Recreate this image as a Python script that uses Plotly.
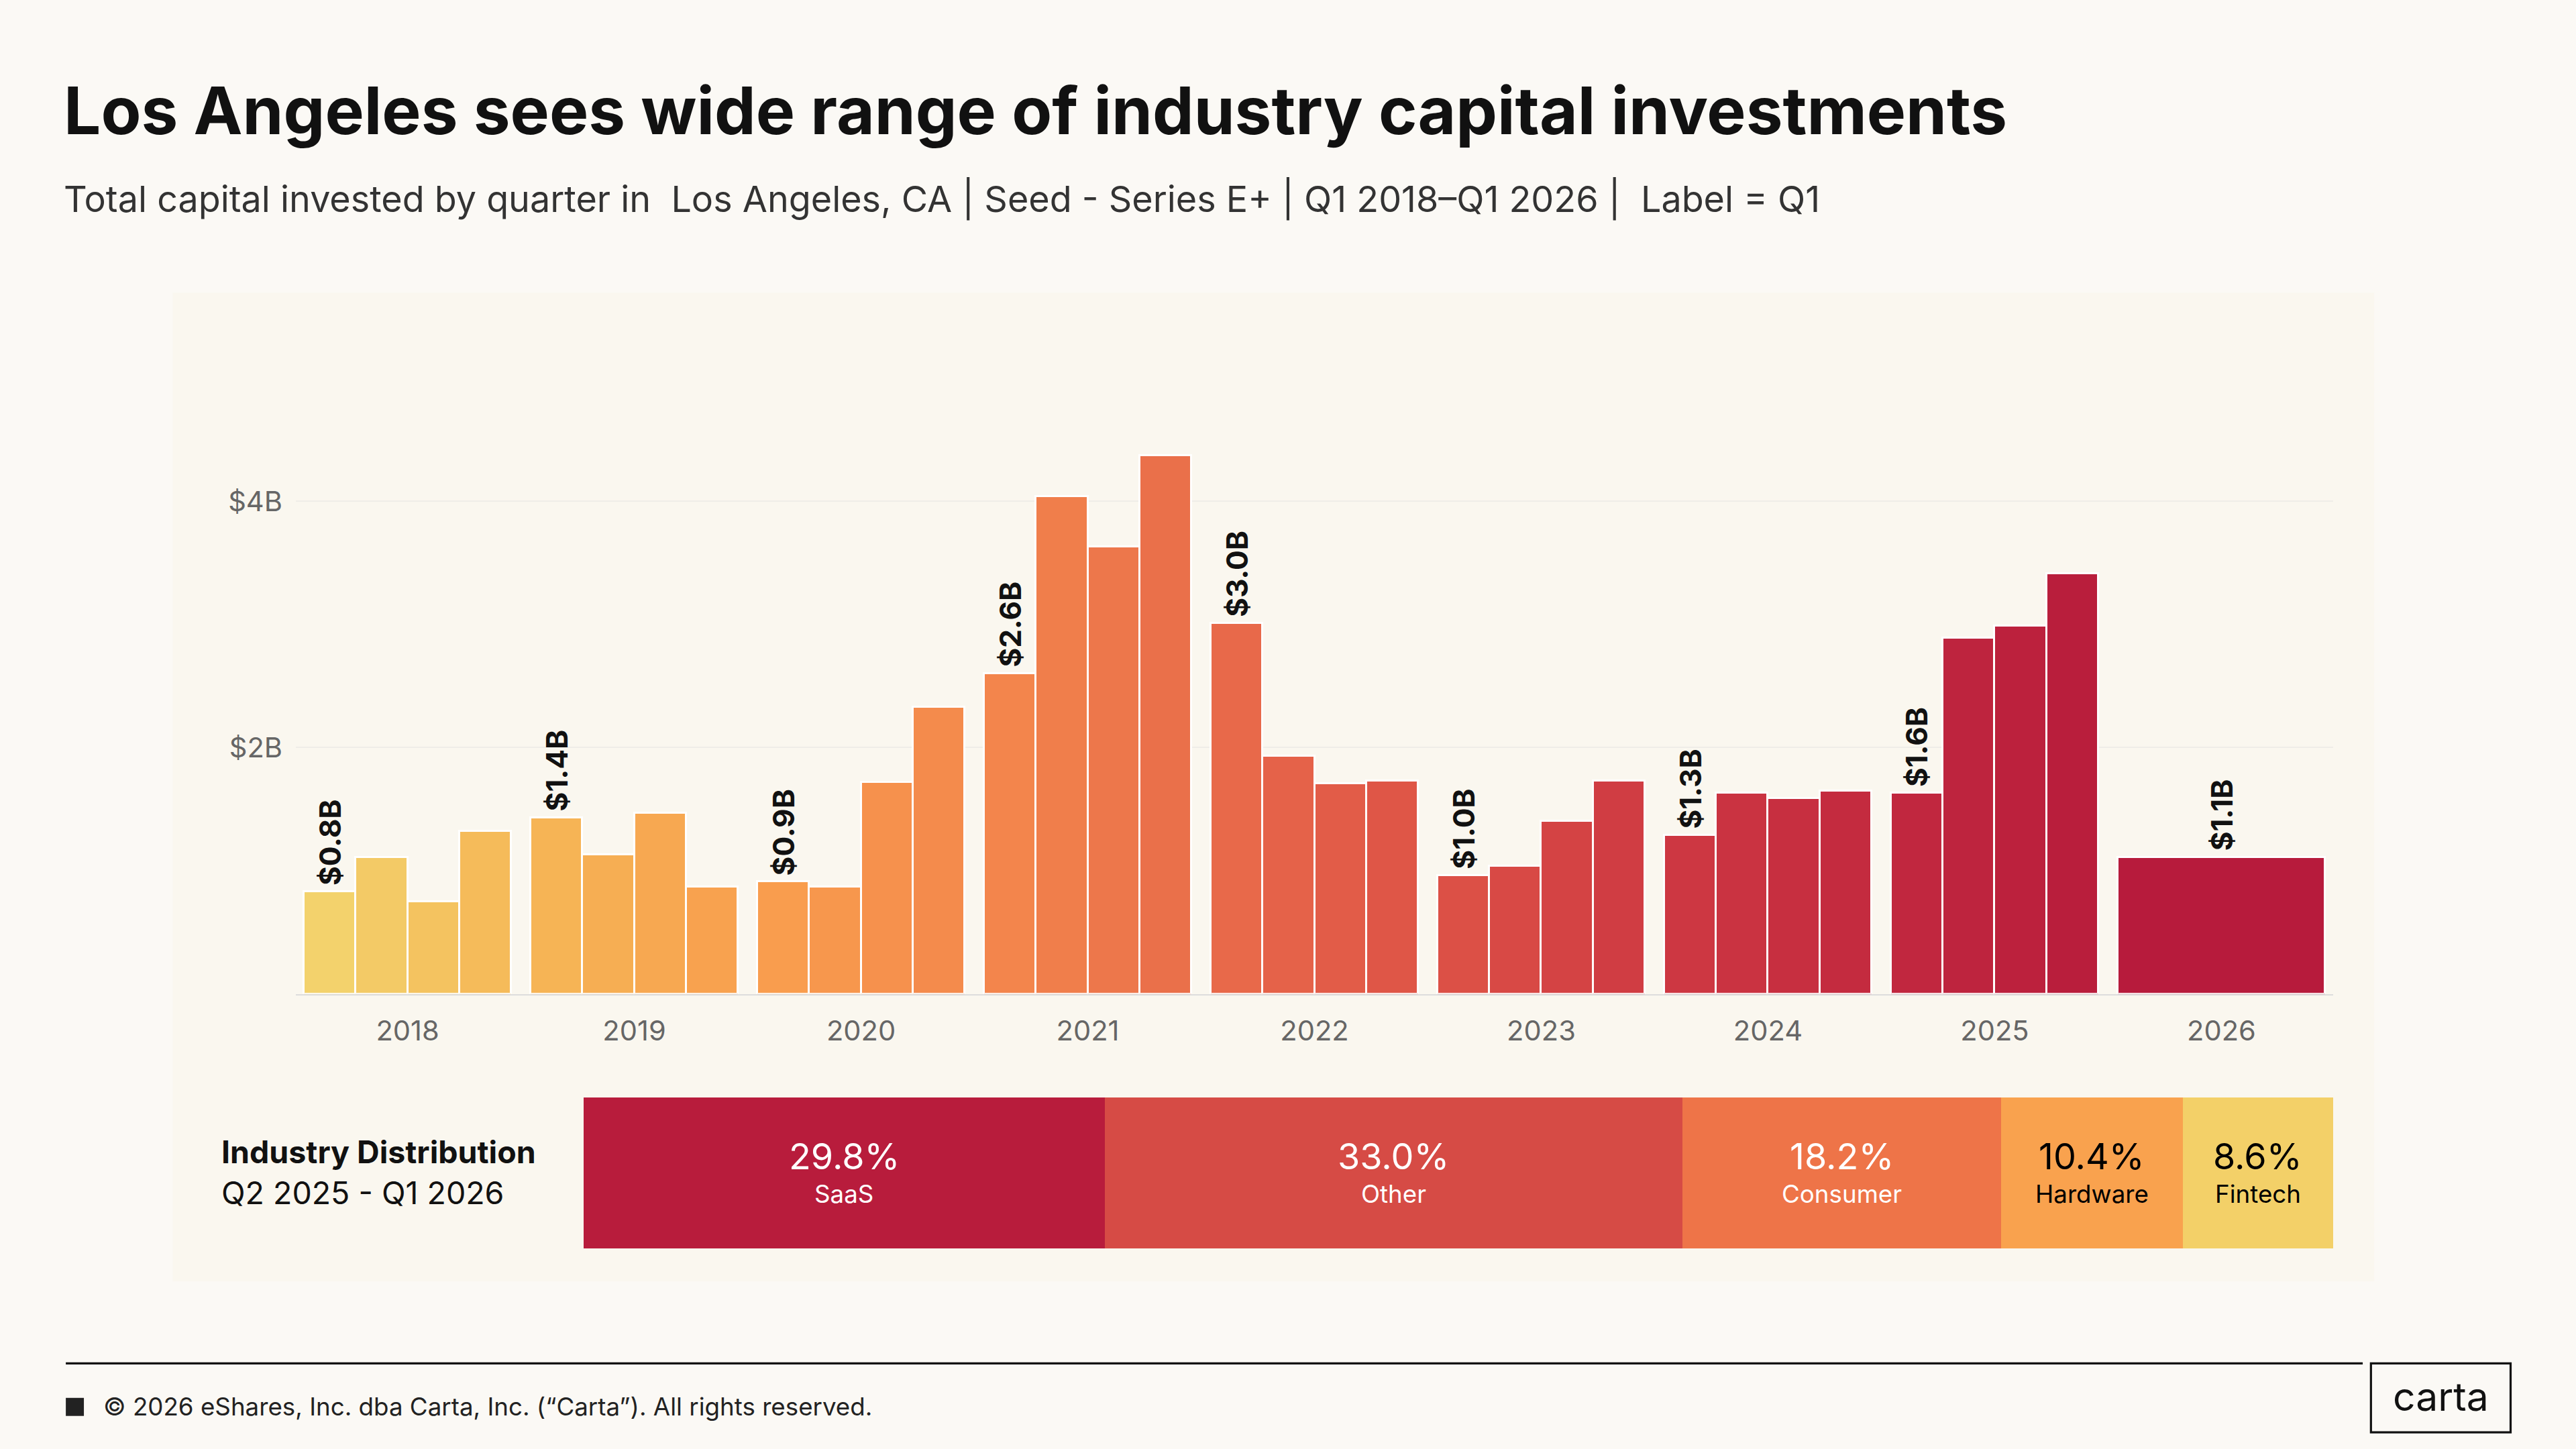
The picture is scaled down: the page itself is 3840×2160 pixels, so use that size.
import plotly.graph_objects as go
import numpy as np

# layout was measured on a 1568x882 copy; S scales to the real canvas
S = 3840 / 1568
W, H = 3840, 2160

years = ["2018", "2019", "2020", "2021", "2022", "2023", "2024", "2025", "2026"]
quarter_values = [
    [0.83, 1.11, 0.75, 1.32],
    [1.43, 1.13, 1.47, 0.87],
    [0.91, 0.87, 1.72, 2.33],
    [2.60, 4.04, 3.63, 4.37],
    [3.01, 1.93, 1.71, 1.73],
    [0.96, 1.04, 1.40, 1.73],
    [1.29, 1.63, 1.59, 1.65],
    [1.63, 2.89, 2.99, 3.41],
    [1.11],
]
q1_labels = ["$0.8B", "$1.4B", "$0.9B", "$2.6B", "$3.0B", "$1.0B", "$1.3B", "$1.6B", "$1.1B"]

industries = ["SaaS", "Other", "Consumer", "Hardware", "Fintech"]
shares = [29.8, 33.0, 18.2, 10.4, 8.6]
ind_colors = ["#b81c3c", "#d64b45", "#ee7448", "#f9a24e", "#f3d068"]
ind_text = ["white", "white", "white", "black", "black"]

# colour ramp for the quarterly bars
stops = ["#f3d26c", "#f6b455", "#f99d4e", "#f3854c", "#e8694a", "#dc5046", "#cd3742", "#c1273f", "#b71b3c"]

def hex2rgb(h):
    return np.array([int(h[i:i + 2], 16) for i in (1, 3, 5)])

def ramp(t):
    p = t * (len(stops) - 1)
    i = min(int(p), len(stops) - 2)
    f = p - i
    c = hex2rgb(stops[i]) * (1 - f) + hex2rgb(stops[i + 1]) * f
    return "rgb(%d,%d,%d)" % tuple(c)

GAP = 4.38
xs, ys, ws, cols = [], [], [], []
n_bars = 33
k = 0
for i, vals in enumerate(quarter_values):
    if len(vals) == 1:
        xs.append(i * GAP + 1.5); ws.append(4)
    else:
        xs += [i * GAP + q for q in range(4)]; ws += [1] * 4
    for v in vals:
        ys.append(v)
        cols.append(ramp(k / (n_bars - 1)))
        k += 1

FONT = "Inter"
fig = go.Figure()
fig.add_trace(go.Bar(x=xs, y=ys, width=ws, marker=dict(color=cols, line=dict(color="white", width=1.2 * S)),
                     xaxis="x", yaxis="y", hoverinfo="y"))

left = 0
for i, vals in enumerate(quarter_values):
    fig.add_annotation(x=xs[left], y=vals[0], xref="x", yref="y", text="<b>" + q1_labels[i] + "</b>",
                       textangle=-90, showarrow=False, yanchor="bottom", yshift=3 * S,
                       font=dict(family=FONT, size=18 * S, color="#111"))
    left += len(vals)

for name, v, c in zip(industries, shares, ind_colors):
    fig.add_trace(go.Bar(y=["d"], x=[v], orientation="h", marker=dict(color=c, line=dict(width=0)),
                         xaxis="x2", yaxis="y2", width=1, hoverinfo="x+name", name=name))
cum = 0
for name, v, tc in zip(industries, shares, ind_text):
    mid = cum + v / 2
    fig.add_annotation(x=mid, y=0.11, xref="x2", yref="y2", text="%.1f%%" % v, showarrow=False,
                       font=dict(family=FONT, size=22 * S, color=tc))
    fig.add_annotation(x=mid, y=-0.14, xref="x2", yref="y2", text=name, showarrow=False,
                       font=dict(family=FONT, size=15 * S, color=tc))
    cum += v

# plot area in 1568 units: x 180..1420, y 220..760
pl, pr, pt, pb = 180, 1420, 220, 760
def px(x): return (x - pl) / (pr - pl)
def py(y): return (pb - y) / (pb - pt)
unit = 31.5
x0 = -0.5 - (185 - pl) / unit
x1 = 8 * GAP + 3.5 + (pr - 1415) / unit

fig.update_layout(
    width=W, height=H, barmode="stack", showlegend=False, bargap=0,
    paper_bgcolor="#fbf9f5", plot_bgcolor="rgba(0,0,0,0)",
    margin=dict(l=pl * S, r=(1568 - pr) * S, t=pt * S, b=(882 - pb) * S),
    font=dict(family=FONT, color="#333"),
    xaxis=dict(domain=[0, 1], range=[x0, x1], tickvals=[i * GAP + 1.5 for i in range(9)], ticktext=years,
               showgrid=False, zeroline=False, showline=True, linecolor="#dddddd", linewidth=1 * S,
               ticks="", tickfont=dict(size=17 * S, color="#666"), anchor="y",
               ticklabelstandoff=int(7 * S)),
    yaxis=dict(domain=[py(605), 1], range=[0, (605 - pt) / 75], tickvals=[2, 4], ticktext=["$2B", "$4B"],
               showgrid=True, gridcolor="#efede8", gridwidth=1 * S, zeroline=False, ticks="",
               tickfont=dict(size=17 * S, color="#666"), ticklabelstandoff=int(8 * S)),
    xaxis2=dict(domain=[px(355), 1], range=[0, 100], visible=False, anchor="y2"),
    yaxis2=dict(domain=[0, py(668)], range=[-0.5, 0.5], visible=False, anchor="x2"),
)

shapes = [
    dict(type="rect", xref="paper", yref="paper", layer="below",
         x0=px(105), x1=px(1445), y0=py(780), y1=py(178), fillcolor="#faf7ef", line=dict(width=0)),
    dict(type="line", xref="paper", yref="paper", x0=px(40), x1=px(1438), y0=py(830), y1=py(830),
         line=dict(color="#111", width=1.3 * S)),
    dict(type="rect", xref="paper", yref="paper", x0=px(40), x1=px(51), y0=py(862), y1=py(851),
         fillcolor="#222", line=dict(width=0)),
    dict(type="rect", xref="paper", yref="paper", x0=px(1443), x1=px(1528), y0=py(872), y1=py(830),
         fillcolor="rgba(0,0,0,0)", line=dict(color="#111", width=1.3 * S)),
]
fig.update_layout(shapes=shapes)

def txt(x, y, t, size, color="#111", xanchor="left", bold=False):
    fig.add_annotation(x=px(x), y=py(y), xref="paper", yref="paper", text=("<b>%s</b>" % t) if bold else t,
                       showarrow=False, xanchor=xanchor, yanchor="middle",
                       font=dict(family=FONT, size=size * S, color=color))

txt(38, 67, "Los Angeles sees wide range of industry capital investments", 40, "#111", bold=True)
txt(38, 121, "Total capital invested by quarter in  Los Angeles, CA | Seed - Series E+ | Q1 2018–Q1 2026 |  Label = Q1", 22, "#333")
txt(134, 701, "Industry Distribution", 19, "#111", bold=True)
txt(134, 726, "Q2 2025 - Q1 2026", 19, "#111")
txt(62, 856, "© 2026 eShares, Inc. dba Carta, Inc. (“Carta”). All rights reserved.", 15, "#222")
txt(1485.5, 850, "carta", 24, "#111", xanchor="center")

fig.write_html("out.html", config={"displayModeBar": False},
               post_script="document.body.style.margin='0';document.body.style.background='#fbf9f5';")
